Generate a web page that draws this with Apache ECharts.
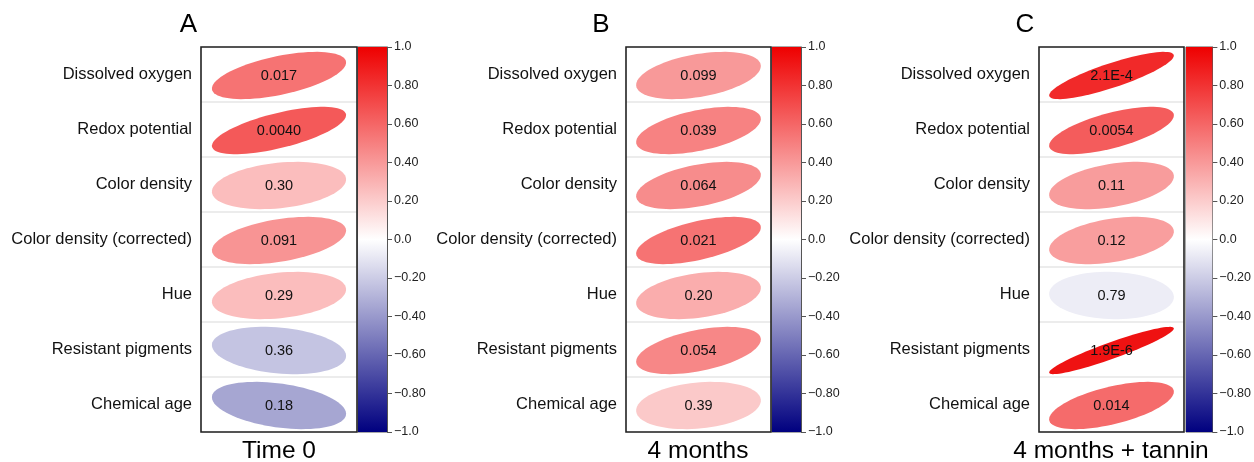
<!DOCTYPE html>
<html>
<head>
<meta charset="utf-8">
<script src="https://cdn.jsdelivr.net/npm/echarts@6/dist/echarts.min.js"></script>
<style>
  html, body { margin: 0; padding: 0; background: #fff; }
  #chart { width: 1254px; height: 462px; }
</style>
</head>
<body>
<div id="chart"></div>
<script>
// rows of the correlation matrix
const categories = ['Dissolved oxygen', 'Redox potential', 'Color density', 'Color density (corrected)', 'Hue', 'Resistant pigments', 'Chemical age'];

const rA = [0.55, 0.65, 0.26, 0.42, 0.26, -0.23, -0.35];
const pA = ['0.017', '0.0040', '0.30', '0.091', '0.29', '0.36', '0.18'];
const rB = [0.40, 0.49, 0.45, 0.55, 0.32, 0.47, 0.21];
const pB = ['0.099', '0.039', '0.064', '0.021', '0.20', '0.054', '0.39'];
const rC = [0.84, 0.64, 0.39, 0.38, -0.07, 0.93, 0.58];
const pC = ['2.1E-4', '0.0054', '0.11', '0.12', '0.79', '1.9E-6', '0.014'];

const tickLabels = ['\u22121.0', '\u22120.80', '\u22120.60', '\u22120.40', '\u22120.20', '0.0', '0.20', '0.40', '0.60', '0.80', '1.0'];
const panelLetters = ['A', 'B', 'C'];
const panelNames = ['Time 0', '4 months', '4 months + tannin'];

const FONT = 'Liberation Sans, Arial, sans-serif';
const TOP = 47, HEIGHT = 385;
const colors = ['#00007f', '#ffffff', '#ee0000'];

// layout of each panel: matrix box, colour bar, letter and caption x
const layout = [
  { box: 201, boxW: 156, bar: 358, barW: 29, letterX: 188.5, nameX: 279 },
  { box: 626, boxW: 145, bar: 772, barW: 29, letterX: 601, nameX: 698 },
  { box: 1039, boxW: 145, bar: 1186, barW: 28, letterX: 1025, nameX: 1111 }
];
const rs = [rA, rB, rC];
const ps = [pA, pB, pC];

const chart = echarts.init(document.getElementById('chart'));

const grids = [], xAxes = [], yAxes = [], series = [], graphics = [];

layout.forEach((L, k) => {
  // matrix grid
  grids.push({ left: L.box, top: TOP, width: L.boxW, height: HEIGHT, show: true,
    backgroundColor: '#fff', borderWidth: 0 });
  xAxes.push({ type: 'category', gridIndex: k * 2, data: ['r'], show: false });
  yAxes.push({ type: 'category', gridIndex: k * 2, data: categories, inverse: true,
    axisLine: { show: false }, axisTick: { show: false },
    axisLabel: { interval: 0, margin: 9, fontSize: 16.5, color: '#111', fontFamily: FONT },
    splitLine: { show: true, interval: 0, lineStyle: { color: '#e6e6e6', width: 1.5 } } });
  // colour bar grid
  grids.push({ left: L.bar, top: TOP, width: L.barW, height: HEIGHT, show: true,
    borderColor: '#555', borderWidth: 1 });
  xAxes.push({ type: 'category', gridIndex: k * 2 + 1, data: ['bar'], show: false });
  yAxes.push({ type: 'value', gridIndex: k * 2 + 1, position: 'right', min: -1, max: 1, interval: 0.2,
    axisLine: { show: true, lineStyle: { color: '#555' } },
    axisTick: { show: true, length: 5, lineStyle: { color: '#555' } },
    splitLine: { show: false },
    axisLabel: { margin: 7, fontSize: 12.5, color: '#222', fontFamily: FONT,
      formatter: v => tickLabels[Math.round((v + 1) / 0.2)] } });

  // dark frame round the matrix, on top of the row separators
  graphics.push({ type: 'rect', z: 100, shape: { x: L.box, y: TOP, width: L.boxW, height: HEIGHT },
    style: { fill: null, stroke: '#222', lineWidth: 1.6 } });
  graphics.push({ type: 'text', x: L.letterX, y: 25, style: { text: panelLetters[k], fontSize: 26,
    fontFamily: FONT, fill: '#000', align: 'center', verticalAlign: 'middle' } });
  graphics.push({ type: 'text', x: L.nameX, y: 451, style: { text: panelNames[k], fontSize: 24.5,
    fontFamily: FONT, fill: '#000', align: 'center', verticalAlign: 'middle' } });
});

// ellipse series (corrplot style)
layout.forEach((L, k) => {
  const r = rs[k], p = ps[k];
  series.push({
    type: 'custom', xAxisIndex: k * 2, yAxisIndex: k * 2,
    data: categories.map((c, i) => [0, i, r[i]]),
    renderItem: (params, api) => {
      const c = api.coord([api.value(0), api.value(1)]);
      const s = api.size([1, 1]);
      const rv = api.value(2);
      const d = Math.acos(rv);
      const a = s[0] * 0.43, b = s[1] * 0.43;
      const pts = [];
      for (let j = 0; j < 80; j++) {
        const t = j / 80 * Math.PI * 2;
        pts.push([c[0] + a * Math.cos(t + d / 2), c[1] + 1 - b * Math.cos(t - d / 2)]);
      }
      return { type: 'group', children: [
        { type: 'polygon', shape: { points: pts }, style: { fill: api.visual('color') } },
        { type: 'text', style: { text: p[params.dataIndex], x: c[0], y: c[1] + 1, align: 'center',
          verticalAlign: 'middle', fontSize: 14.5, fontFamily: FONT, fill: '#111' } }
      ] };
    }
  });
});

// colour bars
layout.forEach((L, k) => {
  series.push({
    type: 'custom', xAxisIndex: k * 2 + 1, yAxisIndex: k * 2 + 1,
    data: [[0, 1]],
    renderItem: (params, api) => {
      const top = api.coord([0, 1]);
      const bot = api.coord([0, -1]);
      const w = api.size([1, 0])[0];
      return { type: 'rect', shape: { x: top[0] - w / 2, y: top[1], width: w, height: bot[1] - top[1] },
        style: { fill: new echarts.graphic.LinearGradient(0, 0, 0, 1, [
          { offset: 0, color: colors[2] }, { offset: 0.5, color: colors[1] }, { offset: 1, color: colors[0] }]) } };
    }
  });
});

chart.setOption({
  animation: false,
  backgroundColor: '#fff',
  grid: grids,
  xAxis: xAxes,
  yAxis: yAxes,
  visualMap: { type: 'continuous', show: false, min: -1, max: 1, dimension: 2,
    seriesIndex: [0, 1, 2], inRange: { color: colors } },
  series: series,
  graphic: graphics
});
</script>
</body>
</html>
